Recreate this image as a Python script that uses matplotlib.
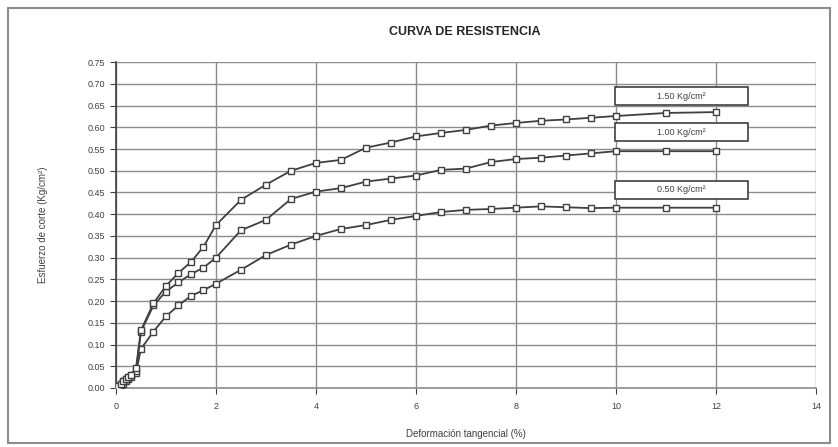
import matplotlib
matplotlib.use("Agg")
import matplotlib.pyplot as plt
from matplotlib.patches import Rectangle

# Datos
deformacion = [0, 0.05, 0.1, 0.15, 0.2, 0.25, 0.3, 0.4, 0.5, 0.75, 1.0, 1.25,
               1.5, 1.75, 2.0, 2.5, 3.0, 3.5, 4.0, 4.5, 5.0, 5.5, 6.0, 6.5,
               7.0, 7.5, 8.0, 8.5, 9.0, 9.5, 10, 11, 12]

esf_050 = [0, 0.003, 0.006, 0.010, 0.015, 0.020, 0.025, 0.035, 0.090, 0.130,
           0.165, 0.190, 0.212, 0.225, 0.240, 0.272, 0.306, 0.330, 0.350,
           0.366, 0.375, 0.387, 0.396, 0.405, 0.410, 0.412, 0.415, 0.418,
           0.416, 0.414, 0.415, 0.415, 0.415]

esf_100 = [0, 0.005, 0.010, 0.015, 0.020, 0.025, 0.030, 0.040, 0.130, 0.190,
           0.222, 0.243, 0.262, 0.277, 0.300, 0.363, 0.387, 0.435, 0.452,
           0.460, 0.475, 0.482, 0.489, 0.502, 0.505, 0.520, 0.527, 0.530,
           0.535, 0.540, 0.545, 0.545, 0.545]

esf_150 = [0, 0.005, 0.010, 0.015, 0.020, 0.025, 0.030, 0.045, 0.133, 0.195,
           0.235, 0.265, 0.290, 0.325, 0.375, 0.433, 0.468, 0.500, 0.518,
           0.525, 0.553, 0.565, 0.579, 0.587, 0.594, 0.604, 0.610, 0.615,
           0.618, 0.622, 0.626, 0.633, 0.635]

etiquetas = ["0.50 Kg/cm²", "1.00 Kg/cm²", "1.50 Kg/cm²"]
pos_etiquetas = [0.456, 0.589, 0.672]

fam = ["Liberation Sans Narrow", "Liberation Sans", "DejaVu Sans"]
plt.rcParams["font.family"] = fam

fig = plt.figure(figsize=(8.38, 4.47), dpi=100)
ax = fig.add_axes([0.1384, 0.132, 0.8353, 0.729])

col_linea = "#404040"
for serie in (esf_050, esf_100, esf_150):
    ax.plot(deformacion, serie, color=col_linea, lw=1.3, marker="s",
            markersize=4.5, markerfacecolor="white", markeredgecolor=col_linea,
            markeredgewidth=1.0, zorder=3)

# Cajas de etiqueta
for txt, yv in zip(etiquetas, pos_etiquetas):
    ax.add_patch(Rectangle((9.98, yv - 0.021), 2.67, 0.042, facecolor="white",
                           edgecolor="#404040", lw=1.2, zorder=4))
    ax.text(11.31, yv, txt, ha="center", va="center", fontsize=6.5,
            color="#404040", zorder=5)

ax.set_xlim(0, 14)
ax.set_ylim(0, 0.75)
ax.set_xticks(range(0, 15, 2))
ax.set_yticks([i * 0.05 for i in range(16)])
ax.set_yticklabels([f"{i * 0.05:.2f}" for i in range(16)])
ax.tick_params(axis="both", labelsize=6.5, colors="#404040", length=4,
               width=0.8, direction="out")
ax.tick_params(axis="x", pad=6)
ax.grid(True, color="#8c8c8c", lw=1.0)
ax.set_axisbelow(True)
for s in ("top", "right"):
    ax.spines[s].set_visible(False)
ax.spines["left"].set_color("#404040")
ax.spines["bottom"].set_color("#8c8c8c")
ax.spines["left"].set_linewidth(1.2)
ax.spines["bottom"].set_linewidth(1.2)

fig.text(0.555, 0.928, "CURVA DE RESISTENCIA", ha="center", va="center",
         fontsize=9, fontweight="bold", color="#262626")
ax.set_xlabel("Deformación tangencial (%)", fontsize=7, color="#404040")
ax.set_ylabel("Esfuerzo de corte (Kg/cm²)", fontsize=7, color="#404040")
ax.xaxis.set_label_coords(0.5, -0.125)
ax.yaxis.set_label_coords(-0.097, 0.5)

# Borde del area del grafico
fig.patches.append(Rectangle((0.010, 0.010), 0.980, 0.972,
                             transform=fig.transFigure, fill=False,
                             edgecolor="#8c8c8c", lw=1.5))

fig.savefig("out.png", dpi=100)
